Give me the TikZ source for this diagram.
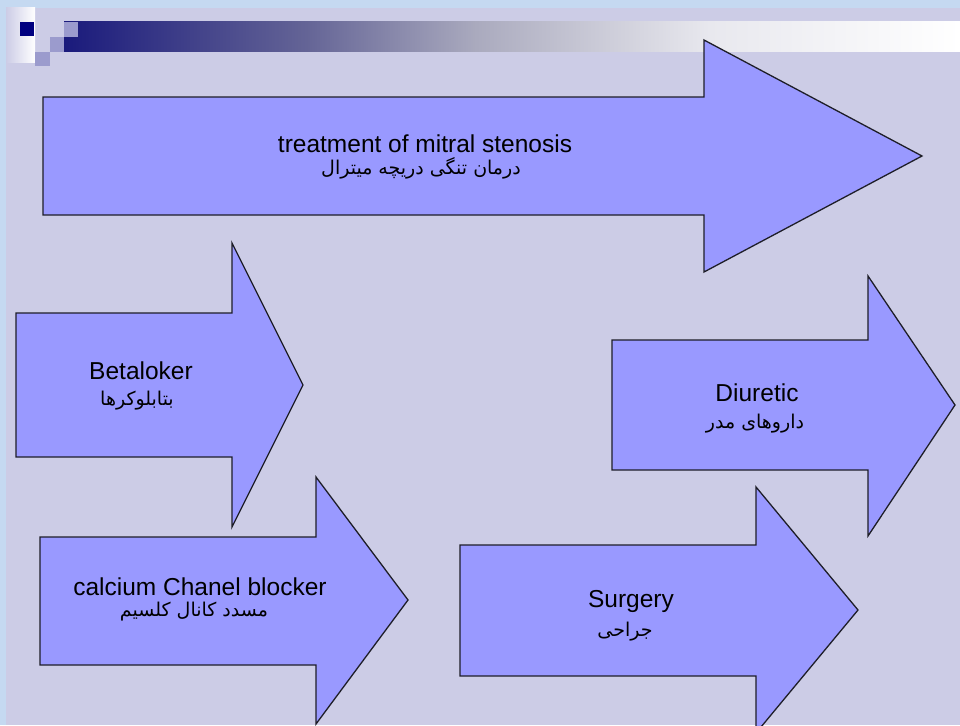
\documentclass[tikz,border=0pt]{standalone}
\usepackage{fontspec}
\setmainfont{Liberation Sans}
\newfontfamily\fa[Script=Arabic]{DejaVu Sans}
\TeXXeTstate=1
\definecolor{slideborder}{RGB}{197,217,241}
\definecolor{slidebg}{RGB}{204,204,230}
\definecolor{arrowfill}{RGB}{153,153,255}
\definecolor{arrowline}{RGB}{30,30,40}
\definecolor{navysq}{RGB}{0,0,128}
\definecolor{lightsq}{RGB}{155,155,205}
\definecolor{barA}{RGB}{26,26,124}
\definecolor{barB}{RGB}{100,100,150}
\definecolor{barC}{RGB}{170,170,190}
\definecolor{barD}{RGB}{232,232,238}
% TikZ maps the path onto the middle 25bp--75bp of a declared shading
\pgfdeclarehorizontalshading{titlebar}{100bp}{%
  color(0bp)=(barA);
  color(25bp)=(barA);
  color(38.5bp)=(barB);
  color(48bp)=(barC);
  color(61bp)=(barD);
  color(75bp)=(white);
  color(100bp)=(white)}
\tikzset{
  arrowshape/.style={fill=arrowfill, draw=arrowline, line width=1.3pt, line join=miter},
  entxt/.style={anchor=base, inner sep=0pt, font=\fontsize{24.5}{27}\selectfont},
  fatxt/.style={anchor=base, inner sep=0pt, font=\fa\fontsize{19}{21}\selectfont},
}
\begin{document}
\begin{tikzpicture}[x=1pt,y=-1pt]
\useasboundingbox (0,0) rectangle (960,725);
% slide background and frame
\fill[slideborder] (0,0) rectangle (960,725);
\fill[slidebg] (6,8) rectangle (960,725);
% title bar decoration
\shade[left color=slidebg, right color=white] (6,8) rectangle (35,62);
\shade[shading=titlebar] (64,22) rectangle (960,52);
\fill[navysq] (20,22) rectangle (34,36);
\fill[lightsq] (64,22) rectangle (78,37);
\fill[lightsq] (50,37) rectangle (64,52);
\fill[lightsq] (35,52) rectangle (50,66);

% block arrows
\draw[arrowshape] (43,97) -- (704,97) -- (704,40) -- (922,156) -- (704,272) -- (704,215) -- (43,215) -- cycle;
\draw[arrowshape] (16,313) -- (232,313) -- (232,243) -- (303,385) -- (232,527) -- (232,457) -- (16,457) -- cycle;
\draw[arrowshape] (612,340) -- (868,340) -- (868,276) -- (955,405) -- (868,536) -- (868,470) -- (612,470) -- cycle;
\draw[arrowshape] (40,537) -- (316,537) -- (316,477) -- (408,600) -- (316,724) -- (316,665) -- (40,665) -- cycle;
\draw[arrowshape] (460,545) -- (756,545) -- (756,487) -- (858,610) -- (756,733) -- (756,676) -- (460,676) -- cycle;

% labels
\node[entxt] (main) at (425,152) {treatment of mitral stenosis};
\node[fatxt] (mainfa) at (421,174) {\beginR درمان تنگی دریچه میترال\endR};
\node[entxt] (beta) at (141,379) {Betaloker};
\node[fatxt] (betafa) at (137,405) {\beginR بتابلوکرها\endR};
\node[entxt] (diur) at (757,401) {Diuretic};
\node[fatxt] (diurfa) at (755,428) {\beginR داروهای مدر\endR};
\node[entxt] (ccb) at (200,595) {calcium Chanel blocker};
\node[fatxt] (ccbfa) at (194,616) {\beginR مسدد کانال کلسیم\endR};
\node[entxt] (surg) at (631,607) {Surgery};
\node[fatxt] (surgfa) at (625,636) {\beginR جراحی\endR};
\end{tikzpicture}
\end{document}
